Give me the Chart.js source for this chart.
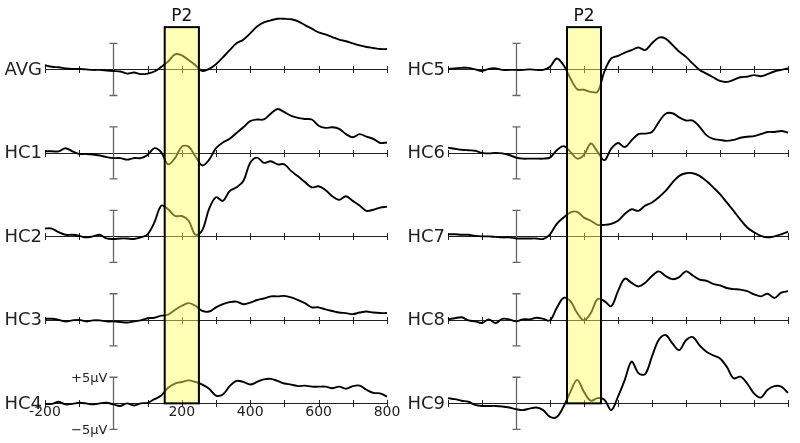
<!DOCTYPE html>
<html>
<head>
<meta charset="utf-8">
<script src="https://cdn.jsdelivr.net/npm/chart.js@4.4.1/dist/chart.umd.min.js"></script>
<style>
  html, body { margin: 0; padding: 0; background: #fff; }
  #wrap { position: relative; width: 800px; height: 443px; overflow: hidden; }
  .col { position: absolute; top: 0; width: 400px; height: 443px; }
</style>
</head>
<body>
<div id="wrap">
  <div class="col" style="left:0"><canvas id="left" width="400" height="443"></canvas></div>
  <div class="col" style="left:400px"><canvas id="right" width="400" height="443"></canvas></div>
</div>
<script>
// time in ms, one sample every 20 ms
const times = [
  -200, -180, -160, -140, -120, -100, -80, -60, -40, -20,
  0, 20, 40, 60, 80, 100, 120, 140, 160, 180,
  200, 220, 240, 260, 280, 300, 320, 340, 360, 380,
  400, 420, 440, 460, 480, 500, 520, 540, 560, 580,
  600, 620, 640, 660, 680, 700, 720, 740, 760, 780,
  800
];

// amplitudes in µV
const avg = [
  0.8, 0.5, 0.4, 0.2, 0.1, 0.1, 0, -0.1, -0.1, -0.2,
  -0.3, -0.4, -0.8, -0.6, -0.9, -0.8, -0.4, 0.5, 1.5, 2.9,
  2.7, 1.8, 0.8, -0.3, 0.1, 1.0, 2.3, 3.7, 5.0, 5.7,
  6.9, 8.2, 9.0, 9.4, 9.7, 9.7, 9.6, 9.2, 8.5, 7.8,
  7.1, 6.7, 6.2, 5.7, 5.4, 5.0, 4.6, 4.3, 4.1, 3.9,
  3.9
];
const hc1 = [
  0.3, 0.3, 0.3, 0.9, 0.3, -0.2, -0.2, -0.3, -0.5, -0.8,
  -1.0, -1.0, -1.3, -1.0, -1.0, -0.4, 0.9, 0.1, -2.2, -1.0,
  1.2, 1.2, -0.7, -2.4, -1.3, 0.9, 2.0, 2.7, 3.8, 4.9,
  6.1, 6.4, 6.4, 7.5, 8.4, 7.8, 7.1, 6.7, 6.5, 6.4,
  5.2, 4.8, 4.9, 4.6, 3.6, 3.0, 3.6, 3.1, 2.7, 1.9,
  2.0
];
const hc2 = [
  1.5, 1.5, 0.8, 0.3, 0.3, 0.1, -0.2, 0, 0.3, -0.4,
  -0.5, -0.4, -0.4, -0.5, -0.2, 0.4, 2.7, 5.9, 5.2, 3.9,
  3.9, 3.0, 0.3, 1.2, 5.3, 7.5, 6.8, 8.7, 9.4, 10.6,
  14.1, 15.1, 14.1, 14.4, 13.8, 13.8, 12.5, 11.5, 10.4, 9.4,
  9.6, 8.9, 7.7, 7.0, 7.7, 6.8, 5.9, 4.9, 5.1, 5.5,
  5.7
];
const hc3 = [
  0.2, 0.2, 0, -0.3, -0.1, 0, -0.3, -0.1, -0.1, -0.3,
  -0.3, -0.4, -0.5, -0.3, -0.1, 0.3, 0.4, 0.8, 1.0, 1.9,
  2.7, 3.2, 2.7, 1.7, 1.6, 2.4, 3.0, 3.4, 3.5, 3.0,
  3.3, 3.8, 4.1, 4.5, 4.5, 4.6, 4.3, 3.8, 3.2, 2.4,
  2.4, 2.0, 1.7, 1.4, 1.3, 1.1, 1.4, 1.6, 1.4, 1.3,
  1.3
];
const hc4 = [
  -0.1, -0.1, 0.3, -0.2, -0.1, 0.1, 0, -0.2, 0, 0.1,
  -0.2, -0.5, 0, -0.4, 0, 0.1, 0.8, 1.5, 3.0, 3.8,
  4.1, 4.4, 4.1, 3.6, 2.8, 1.5, 1.7, 3.3, 4.3, 4.1,
  3.6, 4.1, 4.6, 4.7, 4.3, 3.8, 3.6, 3.3, 3.4, 3.2,
  3.2, 3.2, 2.9, 3.2, 2.8, 3.3, 3.4, 2.6, 2.0, 1.9,
  1.3
];
const hc5 = [
  0.1, 0.2, 0.3, 0.3, 0, -0.3, 0.1, 0.2, -0.1, -0.1,
  -0.1, -0.1, 0, -0.1, -0.1, 0.5, 2.1, 0.8, -1.7, -3.8,
  -3.9, -4.3, -4.3, -0.4, 2.1, 2.6, 3.2, 3.7, 4.2, 3.7,
  5.0, 6.1, 5.9, 4.7, 3.4, 2.4, 1.1, -0.1, -0.8, -1.5,
  -2.2, -2.4, -2.0, -1.5, -1.4, -1.1, -1.3, -0.9, -0.4, -0.1,
  0.2
];
const hc6 = [
  1.0, 0.8, 0.6, 0.5, 0.4, 0, -0.1, 0, -0.1, -0.4,
  -0.9, -1.1, -1.1, -1.1, -1.1, -0.9, 0.5, 1.3, 0.2, -1.1,
  -0.4, 1.8, 0.2, -1.4, 0.8, 1.9, 1.1, 2.4, 3.6, 3.7,
  4.0, 5.9, 7.5, 7.6, 6.8, 6.2, 6.2, 5.0, 3.4, 2.7,
  2.5, 2.3, 2.5, 2.9, 3.1, 3.2, 3.6, 4.0, 4.0, 4.2,
  3.9
];
const hc7 = [
  0.4, 0.4, 0.3, 0.3, 0.1, 0, 0, -0.1, -0.2, -0.2,
  -0.4, -0.4, -0.4, -0.4, -0.5, 0.4, 2.4, 3.6, 4.6, 4.7,
  3.6, 3.0, 2.2, 2.2, 2.4, 3.0, 4.3, 5.2, 4.9, 5.9,
  6.5, 7.5, 8.7, 10.3, 11.6, 12.1, 12.1, 11.6, 10.6, 9.4,
  8.1, 6.5, 4.9, 3.2, 1.7, 0.8, 0.1, -0.2, 0, 0.4,
  0.9
];
const hc8 = [
  0.1, 0.3, 0.5, -0.1, -0.3, -0.6, 0.1, -0.6, 0.2, 0.1,
  -0.3, 0.1, 0.1, 0.4, 0.2, -0.1, 2.3, 4.2, 3.6, 1.3,
  -0.1, 1.3, 4.0, 3.6, 2.6, 5.5, 7.9, 7.1, 6.4, 7.1,
  8.4, 9.3, 8.4, 7.8, 8.2, 9.3, 8.5, 7.7, 7.5, 6.9,
  6.6, 6.1, 5.9, 5.8, 5.5, 4.9, 4.5, 5.0, 4.2, 5.2,
  5.5
];
const hc9 = [
  1.0, 0.8, 0.5, 0.3, -0.3, -0.5, -0.5, -0.5, -0.6, -0.8,
  -1.1, -1.3, -1.0, -0.8, -1.3, -2.6, -2.6, -0.6, 2.2, 4.5,
  2.2, 0.5, 1.0, 0.7, -1.3, 1.3, 4.5, 8.0, 5.8, 5.6,
  9.0, 12.2, 13.1, 11.5, 10.2, 12.1, 12.7, 11.1, 9.9, 9.2,
  8.6, 7.0, 4.8, 5.1, 3.8, 1.9, 1.1, 2.6, 3.3, 3.2,
  2.0
];

const leftNames = ['AVG', 'HC1', 'HC2', 'HC3', 'HC4'];
const rightNames = ['HC5', 'HC6', 'HC7', 'HC8', 'HC9'];
const xTickValues = [-200, 200, 400, 600, 800];
const xTickLabels = ['-200', '200', '400', '600', '800'];
const p2Window = [150, 250];

const SPACING = 16;      // µV between stacked traces
const Y_MAX = 13.3;
const Y_MIN = -71.6;
const BOX_TOP = 8.1;     // µV above the first baseline
const FONT = '"DejaVu Sans", Verdana, sans-serif';

function makeDatasets(series) {
  return series.map((vals, i) => ({
    data: times.map((t, k) => ({ x: t, y: vals[k] - i * SPACING })),
    borderColor: '#000',
    borderWidth: 1.9,
    pointRadius: 0,
    tension: 0.35,
    fill: false,
    clip: false
  }));
}

const erpPlugin = {
  id: 'erp',
  beforeDatasetsDraw(chart, args, opts) {
    const { ctx, scales: { x, y } } = chart;
    ctx.save();
    opts.names.forEach((name, i) => {
      const base = -i * SPACING;
      const by = Math.round(y.getPixelForValue(base)) + 0.5;
      ctx.strokeStyle = '#222';
      ctx.lineWidth = 1;
      ctx.beginPath();
      ctx.moveTo(x.getPixelForValue(-200), by);
      ctx.lineTo(x.getPixelForValue(800), by);
      for (let t = -200; t <= 800; t += 100) {
        const px = Math.round(x.getPixelForValue(t)) + 0.5;
        ctx.moveTo(px, by - 3.5);
        ctx.lineTo(px, by + 3.5);
      }
      ctx.stroke();

      // +/-5 µV scale bar at stimulus onset
      const zx = Math.round(x.getPixelForValue(0)) + 0.5;
      const top = y.getPixelForValue(base + 5);
      const bot = y.getPixelForValue(base - 5);
      ctx.strokeStyle = '#666';
      ctx.lineWidth = 1.3;
      ctx.beginPath();
      ctx.moveTo(zx, top); ctx.lineTo(zx, bot);
      ctx.moveTo(zx - 4, top); ctx.lineTo(zx + 4, top);
      ctx.moveTo(zx - 4, bot); ctx.lineTo(zx + 4, bot);
      ctx.stroke();
    });
    ctx.restore();
  },
  afterDatasetsDraw(chart, args, opts) {
    const { ctx, scales: { x, y } } = chart;
    const n = opts.names.length;
    ctx.save();

    // P2 window
    const bx0 = x.getPixelForValue(p2Window[0]);
    const bx1 = x.getPixelForValue(p2Window[1]);
    const bTop = y.getPixelForValue(BOX_TOP);
    const bBot = y.getPixelForValue(-(n - 1) * SPACING);
    ctx.fillStyle = 'rgba(255, 255, 90, 0.45)';
    ctx.fillRect(bx0, bTop, bx1 - bx0, bBot - bTop);
    ctx.strokeStyle = '#000';
    ctx.lineWidth = 2;
    ctx.strokeRect(bx0, bTop, bx1 - bx0, bBot - bTop);

    ctx.fillStyle = '#111';
    ctx.font = '17px ' + FONT;
    ctx.textAlign = 'center';
    ctx.textBaseline = 'alphabetic';
    ctx.fillText('P2', (bx0 + bx1) / 2, bTop - 6);

    // trace names
    ctx.fillStyle = '#222';
    ctx.font = '18px ' + FONT;
    ctx.textAlign = 'right';
    opts.names.forEach((name, i) => {
      const by = y.getPixelForValue(-i * SPACING);
      ctx.fillText(name, x.getPixelForValue(-200) - 3, by + 5.3);
    });

    if (opts.showAxis) {
      const base = -(n - 1) * SPACING;
      const by = y.getPixelForValue(base);
      ctx.font = '14px ' + FONT;
      ctx.textAlign = 'center';
      xTickValues.forEach((v, k) => {
        ctx.fillText(xTickLabels[k], x.getPixelForValue(v), by + 12.5);
      });
      const zx = x.getPixelForValue(0);
      ctx.font = '13px ' + FONT;
      ctx.textAlign = 'right';
      ctx.fillText('+5µV', zx - 6, y.getPixelForValue(base + 5) + 4.6);
      ctx.fillText('\u22125µV', zx - 6, y.getPixelForValue(base - 5) + 4.6);
    }
    ctx.restore();
  }
};

function makeChart(id, series, names, pad, showAxis) {
  return new Chart(document.getElementById(id), {
    type: 'line',
    data: { datasets: makeDatasets(series) },
    options: {
      responsive: false,
      animation: false,
      layout: { padding: pad },
      plugins: {
        legend: { display: false },
        tooltip: { enabled: false },
        erp: { names: names, showAxis: showAxis }
      },
      scales: {
        x: { type: 'linear', min: -200, max: 800, display: false },
        y: { type: 'linear', min: Y_MIN, max: Y_MAX, display: false }
      }
    },
    plugins: [erpPlugin]
  });
}

makeChart('left', [avg, hc1, hc2, hc3, hc4], leftNames,
  { left: 45, right: 13, top: 0, bottom: 0 }, true);
makeChart('right', [hc5, hc6, hc7, hc8, hc9], rightNames,
  { left: 48, right: 12, top: 0, bottom: 0 }, false);
</script>
</body>
</html>
